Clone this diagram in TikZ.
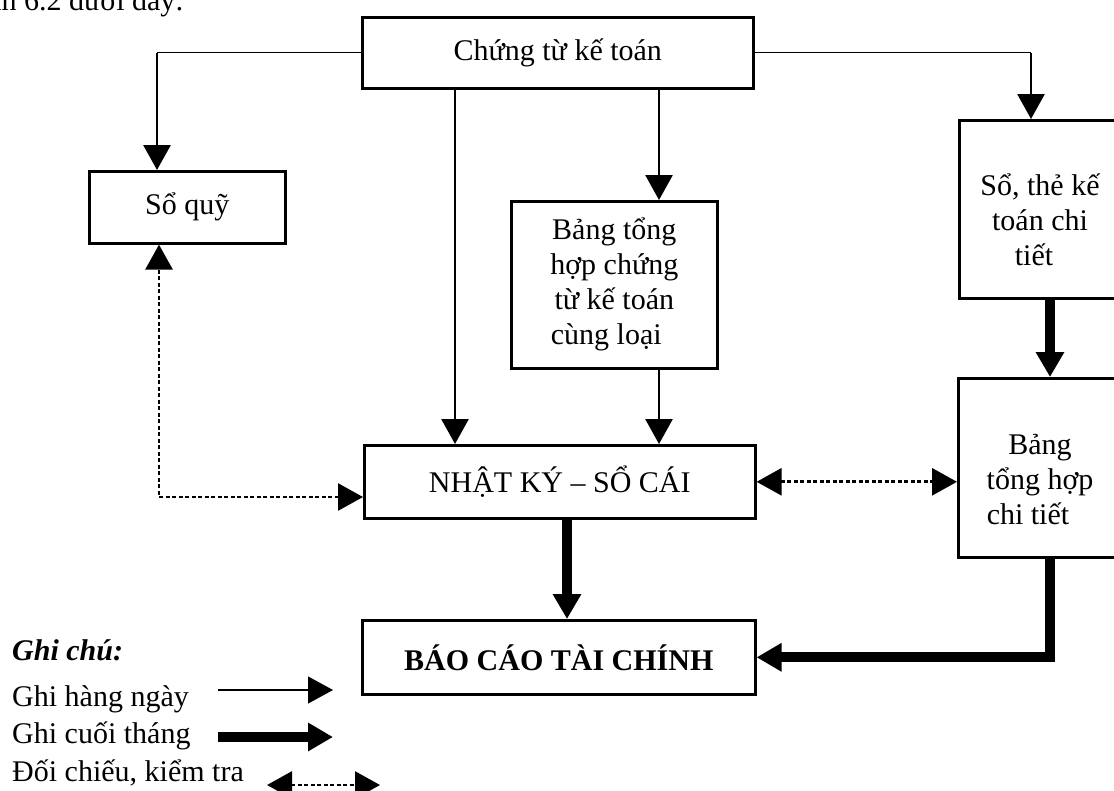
\documentclass[tikz,border=0pt]{standalone}
\usepackage{fontspec}
\setmainfont{Liberation Serif}
\usetikzlibrary{arrows.meta}
\begin{document}
\begin{tikzpicture}[x=1pt,y=-1pt,
  every node/.style={font=\fontsize{30}{35}\selectfont},
  boxst/.style={draw, line width=2.6pt, inner sep=0pt, anchor=north west, align=center},
  txt/.style={align=center, inner sep=0pt},
  tip/.style={-{Triangle[length=25pt,width=27pt]}},
  dtip/.style={{Triangle[length=25pt,width=27pt]}-{Triangle[length=25pt,width=27pt]}},
  vln/.style={line width=2.8pt},
  hair/.style={line width=1.3pt},
  thk/.style={line width=10pt},
  dotl/.style={line width=2.8pt, dash pattern=on 4pt off 2.5pt}]
\useasboundingbox (0,0) rectangle (1114,790);
\clip (0,0) rectangle (1114,790);

% caption fragment (cut off at the top edge, as in the reference)
\node[inner sep=0pt, anchor=base east] (cap) at (184,10) {hình 6.2 dưới đây:};

% boxes
\node[boxst, minimum width=391pt, minimum height=71pt] (top) at (361,16) {Chứng từ kế toán};
\node[boxst, minimum width=196pt, minimum height=72pt] (soquy) at (88,170) {Sổ quỹ};
\node[boxst, minimum width=206pt, minimum height=167pt] (bang) at (510,200) {Bảng tổng\\hợp chứng\\từ kế toán\\cùng loại\hspace*{16pt}};
\node[boxst, minimum width=391pt, minimum height=73pt] (nk) at (363,444) {NHẬT KÝ -- SỔ CÁI};
\node[boxst, minimum width=393pt, minimum height=74pt] (bc) at (361,619) {\textbf{BÁO CÁO TÀI CHÍNH}};
\node[boxst, minimum width=167pt, minimum height=178pt] (sothe) at (958,119) {};
\node[txt] (sothet) at (1040,220) {Sổ, thẻ kế\\toán chi\\tiết\hspace*{12pt}};
\node[boxst, minimum width=168pt, minimum height=179pt] (bthct) at (957,377) {};
\node[txt] (bthctt) at (1040,480) {Bảng\\tổng hợp\\chi tiết\hspace*{24pt}};

% helper coordinates
\coordinate (x157) at (157,0);
\coordinate (x159) at (159,0);
\coordinate (x455) at (455,0);
\coordinate (x567) at (567,0);
\coordinate (x659) at (659,0);
\coordinate (x1031) at (1031,0);
\coordinate (x1050) at (1050,0);
\coordinate (y497) at (0,497);

% daily entries
\draw[hair] (top.west) -- (top.west -| x157);
\draw[vln,tip] (top.west -| x157) -- (soquy.north -| x157);
\draw[hair] (top.east) -- (top.east -| x1031);
\draw[vln,tip] (top.east -| x1031) -- (sothe.north -| x1031);
\draw[vln,tip] (top.south -| x455) -- (nk.north -| x455);
\draw[vln,tip] (top.south -| x659) -- (bang.north -| x659);
\draw[vln,tip] (bang.south -| x659) -- (nk.north -| x659);

% month-end entries
\draw[thk,tip] (nk.south -| x567) -- (bc.north -| x567);
\draw[thk,tip] (sothe.south -| x1050) -- (bthct.north -| x1050);
\draw[thk,tip] (bthct.south -| x1050) |- (bc.east);

% cross-checks
\draw[dotl,dtip] (nk.east) -- (bthct.west |- nk.east);
\draw[dotl,dtip] (nk.west |- y497) -| (soquy.south -| x159);

% legend
\node[inner sep=0pt, anchor=base west] (lg0) at (12,660) {\textbf{\textit{Ghi chú:}}};
\node[inner sep=0pt, anchor=base west] (lg1) at (12,706) {Ghi hàng ngày};
\node[inner sep=0pt, anchor=base west] (lg2) at (12,743) {Ghi cuối tháng};
\node[inner sep=0pt, anchor=base west] (lg3) at (12,781) {Đối chiếu, kiểm tra};
\coordinate (a1s) at (218,690); \coordinate (a1e) at (333,690);
\coordinate (a2s) at (218,737); \coordinate (a2e) at (333,737);
\coordinate (a3s) at (267,785); \coordinate (a3e) at (380,785);
\draw[hair,tip] (a1s) -- (a1e);
\draw[thk,tip] (a2s) -- (a2e);
\draw[dotl,dtip] (a3s) -- (a3e);
\end{tikzpicture}
\end{document}
